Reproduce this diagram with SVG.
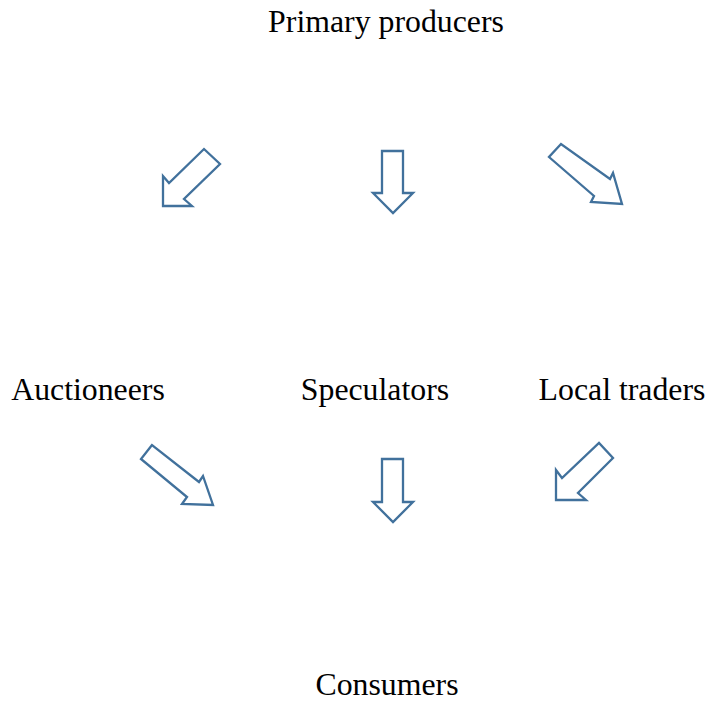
<svg xmlns="http://www.w3.org/2000/svg" width="710" height="705" viewBox="0 0 710 705">
<style>
.lbl{font-family:"Liberation Serif","Times New Roman",serif;font-size:31.8px;fill:#000;text-anchor:middle}
.arr{fill:#fff;stroke:#41719C;stroke-width:2.3;stroke-linejoin:miter}
</style>
<rect width="710" height="705" fill="#fff"/>
<g id="primary-producers"><text class="lbl" x="386" y="32">Primary producers</text></g>
<g id="auctioneers"><text class="lbl" x="88" y="400">Auctioneers</text></g>
<g id="speculators"><text class="lbl" x="375" y="400">Speculators</text></g>
<g id="local-traders"><text class="lbl" x="622" y="400">Local traders</text></g>
<g id="consumers"><text class="lbl" x="387" y="695">Consumers</text></g>
<g id="connectors">
<polygon class="arr" points="163,206 163,176 169,183 204,149 220,164 184,199 192,206"/>
<polygon class="arr" points="382,151 403,151 403,193 413,193 393,213 373,193 382,193"/>
<polygon class="arr" points="561,144 549,157 594,196 591,202 622,204 613,173 610,179"/>
<polygon class="arr" points="152,445 141,459 187,497 182,504 213,505 203,476 199,482"/>
<polygon class="arr" points="382,459 403,459 403,502 413,502 393,522 373,502 382,502"/>
<polygon class="arr" points="556,500 556,470 562,478 599,443 613,458 578,493 586,500"/>
</g>
</svg>
